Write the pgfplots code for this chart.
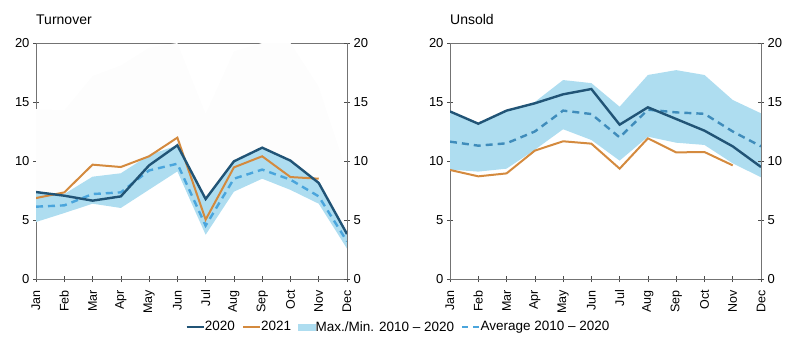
\documentclass[border=0pt]{standalone}
\usepackage{pgfplots}
\pgfplotsset{compat=1.18}
\usepgfplotslibrary{fillbetween}
\usepackage{fontspec}
\setmainfont{Liberation Sans}
\definecolor{cA}{RGB}{33,84,118}
\definecolor{cB}{RGB}{212,138,62}
\definecolor{cBand}{RGB}{174,221,240}
\definecolor{cAvg}{RGB}{74,165,220}
\definecolor{cFaint}{RGB}{253,253,253}

\pgfplotstableread{
x top up lo y20 y21 avg
0 14.4 7.4 4.83 7.37 6.86 6.13
1 14.3 7.2 5.59 7.06 7.34 6.24
2 17.2 8.67 6.38 6.64 9.69 7.20
3 18.1 8.96 6.02 7.00 9.49 7.34
4 19.6 10.5 7.57 9.63 10.40 9.20
5 20.0 11.33 9.12 11.33 11.98 9.77
6 14.0 6.78 3.75 6.78 5.03 4.52
7 19.3 9.97 7.40 9.97 9.46 8.50
8 20.0 11.13 8.50 11.13 10.40 9.27
9 20.0 10.03 7.55 10.03 8.64 8.42
10 16.3 8.14 6.38 8.14 8.50 7.00
11 9.0 3.81 2.58 3.81 nan 3.19
}\turnover

\pgfplotstableread{
x up lo y20 y21 avg
0 14.25 9.27 14.20 9.24 11.64
1 13.2 9.10 13.16 8.70 11.30
2 14.3 9.35 14.27 8.95 11.50
3 15.0 10.95 14.89 10.88 12.50
4 16.86 12.69 15.65 11.67 14.27
5 16.6 11.78 16.10 11.47 13.98
6 14.6 10.03 13.08 9.35 12.00
7 17.29 12.06 14.55 11.92 14.35
8 17.7 11.55 13.56 10.73 14.12
9 17.29 11.36 12.57 10.76 14.00
10 15.17 9.80 11.24 9.63 12.50
11 14.04 8.62 9.49 nan 11.24
}\unsold

\pgfplotsset{
  base/.style={
    scale only axis, width=311pt, height=236pt,
    xmin=0, xmax=11, ymin=0, ymax=20,
    ytick={0,5,10,15,20},
    xtick={0,...,11},
    xticklabels={Jan,Feb,Mar,Apr,May,Jun,Jul,Aug,Sep,Oct,Nov,Dec},
    x tick label style={rotate=90, anchor=east, font=\fontsize{12.5}{14}\selectfont, inner sep=0pt, xshift=0pt},
    xticklabel shift=8pt,
    y tick label style={font=\fontsize{13}{15}\selectfont},
    /pgf/number format/assume math mode=true,
    tick align=center, major tick length=6pt,
    tick style={black!70, line width=0.6pt},
    axis line style={black!55, line width=0.8pt},
    ytick pos=left, xtick pos=bottom,
    unbounded coords=jump,
    anchor=south west,
  },
  rightax/.style={
    scale only axis, width=311pt, height=236pt,
    xmin=0, xmax=11, ymin=0, ymax=20,
    ytick={0,5,10,15,20}, xtick=\empty,
    axis y line*=right, axis x line=none,
    y tick label style={font=\fontsize{13}{15}\selectfont},
    /pgf/number format/assume math mode=true,
    tick align=center, major tick length=6pt,
    tick style={black!70, line width=0.6pt},
    axis line style={black!55, line width=0.8pt},
    anchor=south west,
  },
  l20/.style={cA, line width=2.4pt},
  l21/.style={cB, line width=2pt},
  lavg/.style={cAvg, line width=2.4pt, dash pattern=on 7pt off 5pt},
}

\begin{document}
\begin{tikzpicture}
\path (0,0) rectangle (797pt,-347pt);

% Turnover
\begin{axis}[base, at={(36pt,-279pt)},
  legend style={at={(1.1656,-0.203)}, anchor=center, draw=none, fill=none,
    font=\fontsize{13.5}{15}\selectfont, legend columns=4,
    /tikz/every even column/.append style={column sep=5pt},
    /tikz/every odd column/.append style={column sep=-2pt},
    inner sep=0pt},
  legend cell align=left]
\addplot[name path=tt, draw=none, forget plot] table[x=x,y=top]{\turnover};
\addplot[name path=tu, draw=none, forget plot] table[x=x,y=up]{\turnover};
\addplot[name path=tl, draw=none, forget plot] table[x=x,y=lo]{\turnover};
\addplot[cFaint, draw=none, forget plot] fill between[of=tt and tu];
\addplot[cBand, draw=none, forget plot] fill between[of=tu and tl];
\addplot[lavg, forget plot] table[x=x,y=avg]{\turnover};
\addplot[l21, forget plot] table[x=x,y=y21]{\turnover};
\addplot[l20, forget plot] table[x=x,y=y20]{\turnover};
\addlegendimage{l20}\addlegendentry{2020}
\addlegendimage{l21}\addlegendentry{2021}
\addlegendimage{area legend, fill=cBand, draw=cBand}\addlegendentry{Max./Min. 2010 -- 2020}
\addlegendimage{lavg, dash pattern=on 6pt off 5pt}\addlegendentry{Average 2010 -- 2020}
\end{axis}
\begin{axis}[rightax, at={(36pt,-279pt)}]
\addplot[draw=none] coordinates {(0,0)};
\end{axis}
\node[anchor=base west, inner sep=0pt, font=\fontsize{14}{16}\selectfont] at (36pt,-25pt) {Turnover};

% Unsold
\begin{axis}[base, at={(450pt,-279pt)}]
\addplot[name path=uu, draw=none, forget plot] table[x=x,y=up]{\unsold};
\addplot[name path=ul, draw=none, forget plot] table[x=x,y=lo]{\unsold};
\addplot[cBand, draw=none, forget plot] fill between[of=uu and ul];
\addplot[lavg, cAvg!85!black, forget plot] table[x=x,y=avg]{\unsold};
\addplot[l21, forget plot] table[x=x,y=y21]{\unsold};
\addplot[l20, forget plot] table[x=x,y=y20]{\unsold};
\end{axis}
\begin{axis}[rightax, at={(450pt,-279pt)}]
\addplot[draw=none] coordinates {(0,0)};
\end{axis}
\node[anchor=base west, inner sep=0pt, font=\fontsize{14}{16}\selectfont] at (450pt,-25pt) {Unsold};
\end{tikzpicture}
\end{document}
